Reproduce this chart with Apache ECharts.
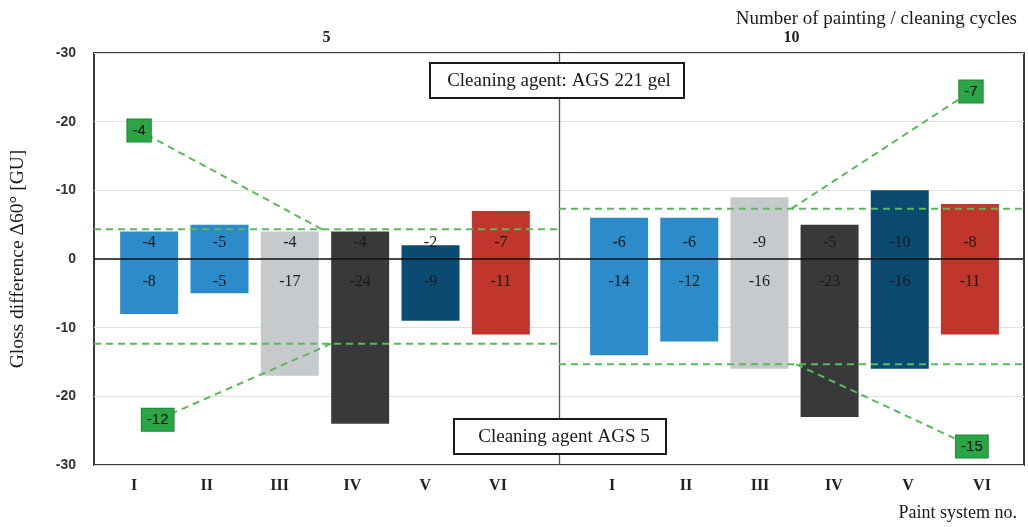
<!DOCTYPE html>
<html>
<head>
<meta charset="utf-8">
<script src="https://cdn.jsdelivr.net/npm/echarts@6/dist/echarts.min.js"></script>
<style>
  html, body { margin: 0; padding: 0; background: #fff; }
  #chart { width: 1028px; height: 527px; }
</style>
</head>
<body>
<div id="chart"></div>
<script>
// Paint systems and cycle groups
const systems = ['I', 'II', 'III', 'IV', 'V', 'VI'];
const cycles = ['5', '10'];

// Gloss difference Δ60° [GU] per paint system
const gelAfter5 = [-4, -5, -4, -4, -2, -7];        // AGS 221 gel, 5 cycles
const ags5After5 = [-8, -5, -17, -24, -9, -11];     // AGS 5, 5 cycles
const gelAfter10 = [-6, -6, -9, -5, -10, -8];       // AGS 221 gel, 10 cycles
const ags5After10 = [-14, -12, -16, -23, -16, -11]; // AGS 5, 10 cycles

// Axis range
const yMin = -30, yMax = 30, yStep = 10;

// Colours of the paint systems
const systemColors = ['#2b8bcb', '#2b8bcb', '#c6cacd', '#38393b', '#0b4a71', '#c0352c'];

// Callout boxes: where each group mean line is anchored and where its box sits
// (x in half-panel units 0..2, y in GU along the respective direction)
const calloutLayout = {
  gel5:   { anchorX: 0.49, boxX: 0.097, boxY: -18.7 },
  ags55:  { anchorX: 0.51, boxX: 0.137, boxY: -23.4 },
  gel10:  { anchorX: 1.50, boxX: 1.886, boxY: -24.4 },
  ags510: { anchorX: 1.51, boxX: 1.888, boxY: -27.3 }
};

const mean = arr => arr.reduce((a, b) => a + b, 0) / arr.length;

const serif = '"Liberation Serif", "DejaVu Serif", serif';
const sans = '"Liberation Sans", Arial, sans-serif';
const green = '#5cb85c';

const G = { top: 53, bottom: 62 };

const chart = echarts.init(document.getElementById('chart'));

function barSeries(data, xi, yi, upper) {
  return {
    type: 'bar',
    xAxisIndex: xi,
    yAxisIndex: yi,
    data: data,
    barWidth: 58,
    barGap: '-100%',
    z: 2,
    itemStyle: { color: p => systemColors[p.dataIndex] },
    label: {
      show: true,
      position: upper ? 'insideBottom' : 'insideTop',
      distance: upper ? 8 : 15,
      color: '#1a1a1a',
      fontFamily: serif,
      fontSize: 16
    },
    emphasis: { disabled: true }
  };
}

function meanLine(values, x0, x1, yi, extraMarkLine) {
  const m = mean(values);
  const s = {
    type: 'line',
    xAxisIndex: 1,
    yAxisIndex: yi,
    data: [[x0, m], [x1, m]],
    symbol: 'none',
    silent: true,
    z: 5,
    lineStyle: { color: green, width: 2, type: [7, 5] }
  };
  if (extraMarkLine) s.markLine = extraMarkLine;
  return s;
}

// dashed connector from the mean line to its callout box
function connector(values, layout, yi) {
  const m = mean(values);
  return {
    type: 'line',
    xAxisIndex: 1,
    yAxisIndex: yi,
    symbol: 'none',
    silent: true,
    z: 6,
    lineStyle: { color: green, width: 2, type: [7, 5] },
    data: [[layout.anchorX, m], [layout.boxX, layout.boxY]]
  };
}

// rounded group mean shown in a green box
function calloutBox(values, layout, yi) {
  const m = mean(values);
  return {
    type: 'scatter',
    xAxisIndex: 1,
    yAxisIndex: yi,
    symbolSize: 1,
    silent: true,
    z: 7,
    itemStyle: { color: 'rgba(0,0,0,0)', opacity: 1 },
    data: [[layout.boxX, layout.boxY]],
    label: {
      show: true,
      position: 'inside',
      formatter: () => String(Math.round(m)),
      color: '#0d0d0d',
      opacity: 1,
      fontFamily: sans,
      fontSize: 15,
      backgroundColor: '#2aa646',
      borderColor: '#1d8434',
      borderWidth: 1,
      padding: [4, 5, 3, 5]
    }
  };
}

const hiddenY = (gi, inverse) => ({
  gridIndex: gi, type: 'value', min: yMin, max: yMax, interval: yStep,
  inverse: inverse, show: false
});

const option = {
  animation: false,
  backgroundColor: '#ffffff',
  title: [
    {
      text: 'Number of painting / cleaning cycles',
      right: 6, top: 5,
      textStyle: { fontFamily: serif, fontSize: 19, fontWeight: 'normal', color: '#1a1a1a' }
    },
    {
      text: 'Paint system no.',
      right: 6, top: 499,
      textStyle: { fontFamily: serif, fontSize: 18, fontWeight: 'normal', color: '#1a1a1a' }
    }
  ],
  grid: [
    { left: 92, right: 4, top: G.top, bottom: G.bottom, show: true, borderColor: '#3a3642', borderWidth: 2, backgroundColor: 'transparent' },
    { left: 114, width: 422, top: G.top, bottom: G.bottom },
    { left: 584, width: 421, top: G.top, bottom: G.bottom },
    { left: 97.6, width: 436.8, top: G.top, bottom: G.bottom },
    { left: 575, width: 444, top: G.top, bottom: G.bottom }
  ],
  xAxis: [
    {
      gridIndex: 0, type: 'category', data: cycles, position: 'top',
      axisLine: { show: false }, axisTick: { show: false },
      axisLabel: { margin: 7, fontFamily: serif, fontSize: 16, fontWeight: 'bold', color: '#222' }
    },
    { gridIndex: 0, type: 'value', min: 0, max: 2, show: false },
    { gridIndex: 1, type: 'category', data: systems, show: false },
    { gridIndex: 2, type: 'category', data: systems, show: false },
    {
      gridIndex: 3, type: 'category', data: systems,
      axisLine: { show: false }, axisTick: { show: false },
      axisLabel: { margin: 13, fontFamily: serif, fontSize: 16, fontWeight: 'bold', color: '#222' }
    },
    {
      gridIndex: 4, type: 'category', data: systems,
      axisLine: { show: false }, axisTick: { show: false },
      axisLabel: { margin: 13, fontFamily: serif, fontSize: 16, fontWeight: 'bold', color: '#222' }
    }
  ],
  yAxis: [
    {
      gridIndex: 0, type: 'value', min: yMin, max: yMax, interval: yStep, inverse: true,
      name: 'Gloss difference Δ60° [GU]',
      nameLocation: 'middle', nameGap: 66, nameRotate: 90,
      nameTextStyle: { fontFamily: serif, fontSize: 19.5, color: '#1a1a1a' },
      axisLine: { show: false }, axisTick: { show: false },
      axisLabel: {
        margin: 18, fontFamily: sans, fontSize: 14, fontWeight: 'bold', color: '#333',
        formatter: v => (v === 0 ? '0' : String(-Math.abs(v)))
      },
      splitLine: { show: true, lineStyle: { color: '#e6dede', width: 1 } }
    },
    hiddenY(0, false),
    hiddenY(1, true),
    hiddenY(1, false),
    hiddenY(2, true),
    hiddenY(2, false),
    hiddenY(3, false),
    hiddenY(4, false)
  ],
  series: [
    barSeries(gelAfter5, 2, 2, true),
    barSeries(ags5After5, 2, 3, false),
    barSeries(gelAfter10, 3, 4, true),
    barSeries(ags5After10, 3, 5, false),
    meanLine(gelAfter5, 0, 1, 0, {
      silent: true, symbol: 'none', label: { show: false },
      data: [
        { yAxis: 0, lineStyle: { color: '#111', width: 1.6, type: 'solid' } },
        { xAxis: 1, lineStyle: { color: '#555', width: 1.3, type: 'solid' } }
      ]
    }),
    meanLine(ags5After5, 0, 1, 1),
    meanLine(gelAfter10, 1, 2, 0),
    meanLine(ags5After10, 1, 2, 1),
    connector(gelAfter5, calloutLayout.gel5, 0),
    connector(ags5After5, calloutLayout.ags55, 1),
    connector(gelAfter10, calloutLayout.gel10, 0),
    connector(ags5After10, calloutLayout.ags510, 1),
    calloutBox(gelAfter5, calloutLayout.gel5, 0),
    calloutBox(ags5After5, calloutLayout.ags55, 1),
    calloutBox(gelAfter10, calloutLayout.gel10, 0),
    calloutBox(ags5After10, calloutLayout.ags510, 1)
  ],
  graphic: [
    {
      type: 'rect', z: 20,
      shape: { x: 430, y: 63, width: 254, height: 35 },
      style: { fill: '#fff', stroke: '#1a1a1a', lineWidth: 2 }
    },
    {
      type: 'text', z: 21, x: 559, y: 81,
      style: { text: 'Cleaning agent: AGS 221 gel', font: '19px ' + serif, fill: '#1a1a1a', align: 'center', verticalAlign: 'middle' }
    },
    {
      type: 'rect', z: 20,
      shape: { x: 454, y: 419, width: 212, height: 35 },
      style: { fill: '#fff', stroke: '#1a1a1a', lineWidth: 2 }
    },
    {
      type: 'text', z: 21, x: 564, y: 437,
      style: { text: 'Cleaning agent AGS 5', font: '19px ' + serif, fill: '#1a1a1a', align: 'center', verticalAlign: 'middle' }
    }
  ]
};

chart.setOption(option);
</script>
</body>
</html>
